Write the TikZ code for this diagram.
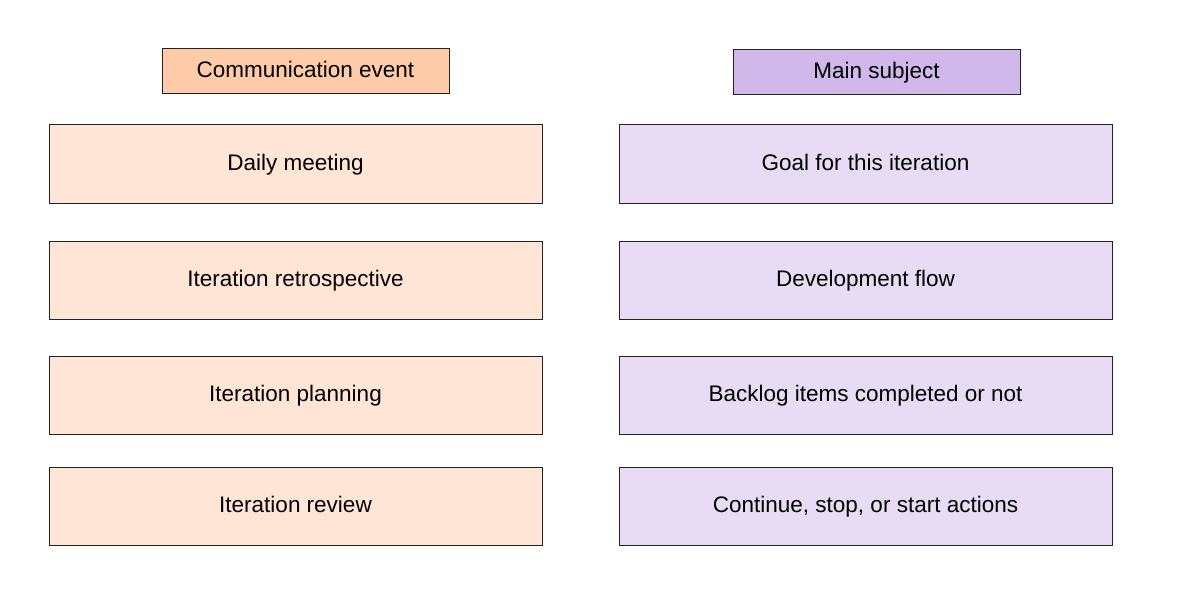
\documentclass[tikz,border=0pt]{standalone}
\usepackage{fontspec}
\setmainfont{Liberation Sans}
\usetikzlibrary{positioning}

\definecolor{headOrange}{HTML}{FFCBA8}
\definecolor{bodyOrange}{HTML}{FFE5D5}
\definecolor{headPurple}{HTML}{D1B8EA}
\definecolor{bodyPurple}{HTML}{E8DCF5}
\definecolor{edgeGray}{HTML}{222222}

\begin{document}
\begin{tikzpicture}[x=1pt, y=-1pt,
    box/.style={draw=edgeGray, line width=1pt, inner sep=0pt, text height=17.5pt, text depth=4.5pt, font=\fontsize{22.5}{28}\selectfont},
    headbox/.style={box, minimum width=287pt, minimum height=45pt},
    bodybox/.style={box, minimum width=493pt, minimum height=78pt}]
        % Canvas
        \useasboundingbox (0,0) rectangle (1178,615);

        % Column positions
        \def\xLeft{295.5}
        \def\xRight{865.5}

        % Headers
        \node[headbox, fill=headOrange] (headEvent) at (305.5,71.5) {Communication event};
        \node[headbox, fill=headPurple] (headSubject) at (876.5,72.5) {Main subject};

        % Communication events
        \node[bodybox, fill=bodyOrange] (daily) at (\xLeft,164) {Daily meeting};
        \node[bodybox, fill=bodyOrange] (retro) at (\xLeft,280) {Iteration retrospective};
        \node[bodybox, fill=bodyOrange] (planning) at (\xLeft,395) {Iteration planning};
        \node[bodybox, fill=bodyOrange] (review) at (\xLeft,506) {Iteration review};

        % Main subjects
        \node[bodybox, fill=bodyPurple] (goal) at (\xRight,164) {Goal for this iteration};
        \node[bodybox, fill=bodyPurple] (flow) at (\xRight,280) {Development flow};
        \node[bodybox, fill=bodyPurple] (backlog) at (\xRight,395) {Backlog items completed or not};
        \node[bodybox, fill=bodyPurple] (actions) at (\xRight,506) {Continue, stop, or start actions};
    \end{tikzpicture}
\end{document}
